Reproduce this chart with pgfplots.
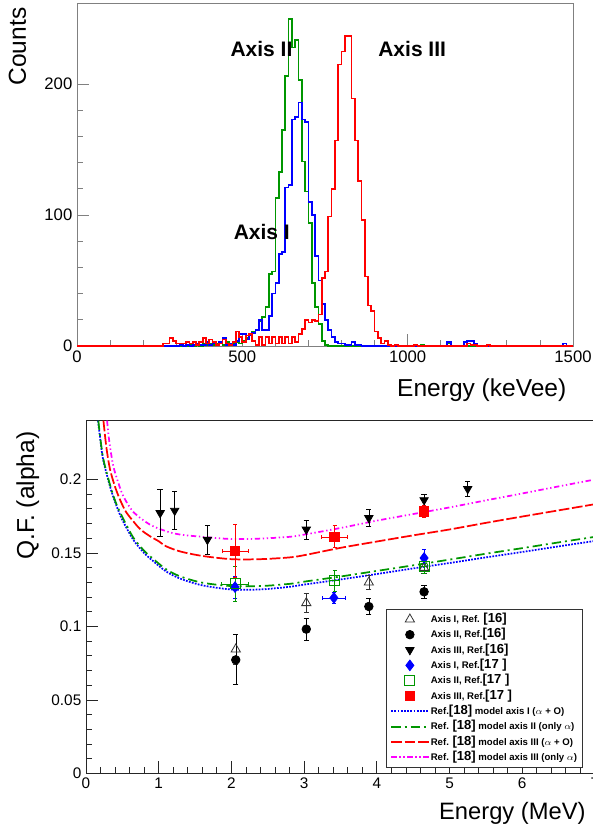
\documentclass[border=0pt]{standalone}
\usepackage{fontspec}
\setmainfont{Liberation Sans}
\usepackage{pgfplots}
\pgfplotsset{compat=1.18}
\definecolor{rgreen}{RGB}{0,150,0}
\definecolor{rblue}{RGB}{0,0,255}
\definecolor{rred}{RGB}{255,0,0}
\definecolor{rmag}{RGB}{255,0,255}
\newcommand{\bk}[1]{{\fontsize{9.8}{10}\selectfont[#1]}}

\begin{document}
\begin{tikzpicture}
% ---------------- top: spectra ----------------
\begin{axis}[
  at={(57.75pt,363pt)}, anchor=south west,
  scale only axis, width=372pt, height=257.25pt,
  xmin=0, xmax=1500, ymin=0, ymax=262,
  xtick={0,500,1000,1500}, ytick={0,100,200},
  minor x tick num=4, minor y tick num=4,
  tick align=inside, xtick pos=bottom, ytick pos=left,
  major tick length=9pt, minor tick length=4.5pt,
  axis line style={gray, line width=0.6pt},
  tick style={gray, line width=0.6pt},
  ticklabel style={font=\fontsize{12.5}{14}\selectfont},
  /pgf/number format/assume math mode=true,
  /pgf/number format/set thousands separator={},
  clip=false,
]
\addplot[const plot mark left, rgreen, line width=1.3pt] coordinates {
 (0,0) (330,0) (340,1) (350,0) (360,1) (370,0) (380,2) (390,1) (400,2) (410,1)
 (420,2) (430,2) (440,1) (450,3) (460,2) (470,2) (480,3) (490,2) (500,4) (510,6)
 (520,9) (530,11) (540,12) (550,19) (560,22) (570,30) (580,55) (590,57) (600,113)
 (610,133) (620,165) (630,206) (640,250) (650,228) (660,234) (670,203) (680,141)
 (690,118) (700,94) (710,48) (720,30) (730,17) (740,4) (750,1) (760,0)
 (1040,1) (1050,0) (1120,2) (1130,0) (1500,0)};
\addplot[const plot mark left, rblue, line width=1.3pt] coordinates {
 (0,0) (310,1) (320,0) (330,1) (340,0) (350,1) (360,2) (370,1) (380,1) (390,3)
 (400,1) (410,2) (420,1) (430,3) (440,6) (450,1) (460,2) (470,1) (480,4) (490,9)
 (500,9) (510,5) (520,8) (530,10) (540,12) (550,20) (560,12) (570,12) (580,23)
 (590,40) (600,48) (610,70) (620,72) (630,121) (640,123) (650,173) (660,175)
 (670,186) (680,173) (690,171) (700,110) (710,100) (720,69) (730,50) (740,32)
 (750,20) (760,12) (770,7) (780,3) (790,2) (800,2) (810,1) (820,1) (830,3)
 (840,1) (850,1) (860,0) (1120,3) (1130,0) (1170,3) (1180,4) (1190,4) (1200,2)
 (1210,0) (1470,2) (1480,0) (1500,0)};
\addplot[const plot mark left, rred, line width=1.3pt] coordinates {
 (0,0) (260,2) (270,2) (280,6) (290,4) (300,2) (310,2) (320,2) (330,3) (340,2)
 (350,3) (360,1) (370,3) (380,6) (390,2) (400,5) (410,3) (420,1) (430,2) (440,5)
 (450,2) (460,1) (470,3) (480,11) (490,7) (500,3) (510,8) (520,9) (530,4) (540,1)
 (550,7) (560,1) (570,7) (580,2) (590,7) (600,2) (610,7) (620,2) (630,7) (640,2)
 (650,7) (660,3) (670,9) (680,13) (690,20) (700,18) (710,20) (720,19) (730,24)
 (740,52) (750,57) (760,99) (770,120) (780,157) (790,215) (800,225) (810,237)
 (820,237) (830,189) (840,157) (850,126) (860,96) (870,53) (880,31) (890,27)
 (900,11) (910,6) (920,2) (930,4) (940,1) (950,0) (960,1) (970,0) (1020,1)
 (1030,0) (1180,2) (1190,1) (1200,1) (1210,0) (1240,1) (1250,0) (1500,0)};
\node[anchor=base west, font=\fontsize{15.75}{17}\selectfont\bfseries] at (axis cs:450,221) {Axis II};
\node[anchor=base west, font=\fontsize{15.75}{17}\selectfont\bfseries] at (axis cs:897,221) {Axis III};
\node[anchor=base west, font=\fontsize{15.75}{17}\selectfont\bfseries] at (axis cs:460,81) {Axis I};
\end{axis}

% ---------------- bottom: quenching factor ----------------
\begin{axis}[
  at={(64.5pt,42.375pt)}, anchor=south west,
  scale only axis, width=381.7pt, height=264.6pt,
  xmin=0, xmax=7, ymin=0, ymax=0.24,
  xtick={0,1,2,3,4,5,6,7}, ytick={0,0.05,0.1,0.15,0.2},
  minor x tick num=4, minor y tick num=4,
  tick align=inside, xtick pos=bottom, ytick pos=left,
  major tick length=9pt, minor tick length=4.5pt,
  axis line style={black!85, line width=0.6pt},
  tick style={black!85, line width=0.6pt},
  ticklabel style={font=\fontsize{11.5}{13}\selectfont},
  scaled y ticks=false,
  yticklabel style={/pgf/number format/fixed, /pgf/number format/precision=2},
  /pgf/number format/assume math mode=true,
  legend style={at={(0.5895,0.467)}, anchor=north west, draw=black!80,
    fill=white, font=\fontsize{7.2}{8}\selectfont\bfseries, row sep=0pt,
    inner xsep=3pt, inner ysep=2pt,
    nodes={inner sep=1pt, text height=7pt, text depth=2.5pt}},
  legend cell align=left,
  legend image code/.code={\draw[mark repeat=2,mark phase=2,#1]
    plot coordinates {(0pt,0pt) (14pt,0pt) (28pt,0pt)};},
]
% model curves
\addplot[forget plot, smooth, rblue, line width=1.3pt, densely dotted] coordinates {
 (0.165,0.240) (0.19,0.230) (0.23,0.215) (0.28,0.2045) (0.35,0.192) (0.42,0.182)
 (0.5,0.1725) (0.65,0.159) (0.8,0.150) (0.9,0.1455) (1.1,0.1375) (1.3,0.1325)
 (1.6,0.128) (2.0,0.1252) (2.4,0.1252) (2.8,0.127) (3.0,0.1285) (3.5,0.132)
 (4.0,0.1357) (4.5,0.1395) (5.0,0.1432) (5.5,0.147) (6.0,0.1507) (6.5,0.1545)
 (7.0,0.1582)};
\addplot[forget plot, smooth, rgreen, line width=1.3pt, dash pattern=on 7pt off 3pt on 1.5pt off 3pt] coordinates {
 (0.17,0.240) (0.19,0.231) (0.23,0.216) (0.28,0.2055) (0.35,0.193) (0.42,0.183)
 (0.5,0.1745) (0.65,0.1605) (0.8,0.1515) (0.9,0.147) (1.1,0.139) (1.3,0.134)
 (1.6,0.1298) (2.0,0.1275) (2.4,0.1275) (2.8,0.129) (3.0,0.1305) (3.5,0.134)
 (4.0,0.1378) (4.5,0.1416) (5.0,0.1455) (5.5,0.1495) (6.0,0.1533) (6.5,0.1572)
 (7.0,0.161)};
\addplot[forget plot, smooth, rred, line width=1.3pt, dash pattern=on 8pt off 2pt] coordinates {
 (0.24,0.240) (0.28,0.222) (0.33,0.207) (0.4,0.195) (0.47,0.186) (0.55,0.178)
 (0.65,0.1716) (0.75,0.166) (0.88,0.1614) (1.0,0.158) (1.1,0.1546) (1.3,0.151)
 (1.6,0.148) (2.0,0.1458) (2.4,0.1458) (2.8,0.147) (3.0,0.1485) (3.5,0.1535)
 (4.0,0.1578) (4.5,0.162) (5.0,0.166) (5.5,0.1705) (6.0,0.1748) (6.5,0.179)
 (7.0,0.1832)};
\addplot[forget plot, smooth, rmag, line width=1.3pt, dash pattern=on 4pt off 2pt on 1pt off 2pt on 1pt off 2pt] coordinates {
 (0.29,0.240) (0.32,0.226) (0.376,0.209) (0.45,0.197) (0.513,0.1887) (0.65,0.178)
 (0.88,0.1693) (1.11,0.1647) (1.3,0.1625) (1.6,0.161) (2.0,0.1595) (2.4,0.1598)
 (2.8,0.161) (3.0,0.1625) (3.5,0.167) (4.0,0.172) (4.5,0.1765) (5.0,0.181)
 (5.5,0.1858) (6.0,0.1905) (6.5,0.1953) (7.0,0.200)};
% Axis I, Ref. [16]
\addplot[only marks, mark=triangle, mark size=4pt, black!80, line width=0.6pt,
  error bars/.cd, y dir=both, y explicit,
  error mark options={rotate=90, mark size=2pt, line width=0.6pt}] coordinates {
 (2.06,0.0845) +- (0,0.010) (3.03,0.116) +- (0,0.0065)
 (3.89,0.130) +- (0,0.005) (4.65,0.140) +- (0,0.004)};
\addlegendentry{Axis I, Ref. \bk{16}}
% Axis II, Ref. [16]
\addplot[only marks, mark=*, mark size=3.2pt, black, line width=0.6pt,
  error bars/.cd, y dir=both, y explicit,
  error mark options={rotate=90, mark size=2pt, line width=0.6pt}] coordinates {
 (2.06,0.0773) +- (0,0.017) (3.03,0.0982) +- (0,0.0075)
 (3.89,0.1136) +- (0,0.0055) (4.65,0.1236) +- (0,0.0045)};
\addlegendentry{Axis II, Ref.\bk{16}}
% Axis III, Ref. [16]
\addplot[only marks, mark=triangle*, mark size=3.6pt, mark options={rotate=180}, black, line width=0.6pt,
  error bars/.cd, y dir=both, y explicit,
  error mark options={rotate=90, mark size=2pt, line width=0.6pt}] coordinates {
 (1.02,0.1772) +- (0,0.016) (1.22,0.1788) +- (0,0.013) (1.67,0.159) +- (0,0.010)
 (3.03,0.166) +- (0,0.0065) (3.89,0.1738) +- (0,0.006) (4.65,0.186) +- (0,0.004)
 (5.25,0.1936) +- (0,0.005)};
\addlegendentry{Axis III, Ref.\bk{16}}
% Axis I, Ref. [17]
\addplot[only marks, mark=diamond*, mark size=4pt, rblue, line width=0.6pt,
  error bars/.cd, x dir=both, x explicit, y dir=both, y explicit,
  error mark options={rotate=90, mark size=1.5pt, line width=0.6pt}] coordinates {
 (2.05,0.1268) +- (0,0.0075) (3.41,0.1195) +- (0.16,0.004) (4.65,0.1466) +- (0,0.006)};
\addlegendentry{Axis I, Ref.\bk{17 }}
% Axis II, Ref. [17]
\addplot[only marks, mark=square, mark size=3.7pt, rgreen, line width=0.7pt,
  error bars/.cd, x dir=both, x explicit, y dir=both, y explicit,
  error mark options={rotate=90, mark size=1.5pt, line width=0.6pt}] coordinates {
 (2.05,0.129) +- (0.19,0.012) (3.42,0.1312) +- (0.07,0.007) (4.65,0.141) +- (0.05,0.005)};
\addlegendentry{Axis II, Ref.\bk{17 }}
% Axis III, Ref. [17]
\addplot[only marks, mark=square*, mark size=3.6pt, rred, line width=0.6pt,
  error bars/.cd, x dir=both, x explicit, y dir=both, y explicit,
  error mark options={rotate=90, mark size=1.5pt, line width=0.6pt}] coordinates {
 (2.05,0.1513) +- (0.18,0.018) (3.42,0.161) +- (0.18,0.0075) (4.65,0.1784) +- (0.05,0.004)};
\addlegendentry{Axis III, Ref.\bk{17 }}
\addlegendimage{draw=rblue, line width=1.4pt, densely dotted}
\addlegendentry{Ref.\bk{18} model axis I ($\alpha$ + O)}
\addlegendimage{draw=rgreen, line width=1.4pt, dash pattern=on 7pt off 3pt on 1.5pt off 3pt}
\addlegendentry{Ref. \bk{18} model axis II (only $\alpha$)}
\addlegendimage{draw=rred, line width=1.4pt, dash pattern=on 8pt off 2pt}
\addlegendentry{Ref. \bk{18} model axis III ($\alpha$ + O)}
\addlegendimage{draw=rmag, line width=1.4pt, dash pattern=on 4pt off 2pt on 1pt off 2pt on 1pt off 2pt}
\addlegendentry{Ref. \bk{18} model axis III (only $\alpha$)}
\end{axis}

% axis titles
\node[rotate=90, anchor=base east, font=\fontsize{18.4}{20}\selectfont] at (19.5pt,620.25pt) {Counts};
\node[anchor=base east, font=\fontsize{18.4}{20}\selectfont] at (428.25pt,325pt) {Energy (keVee)};
\node[rotate=90, anchor=base east, font=\fontsize{18.4}{20}\selectfont] at (25.5pt,302.25pt) {Q.F. (alpha)};
\node[anchor=base east, font=\fontsize{17.8}{19}\selectfont] at (442.7pt,7.5pt) {Energy (MeV)};

\pgfresetboundingbox
\path[use as bounding box] (0,0) rectangle (444pt,622.5pt);
\end{tikzpicture}
\end{document}
